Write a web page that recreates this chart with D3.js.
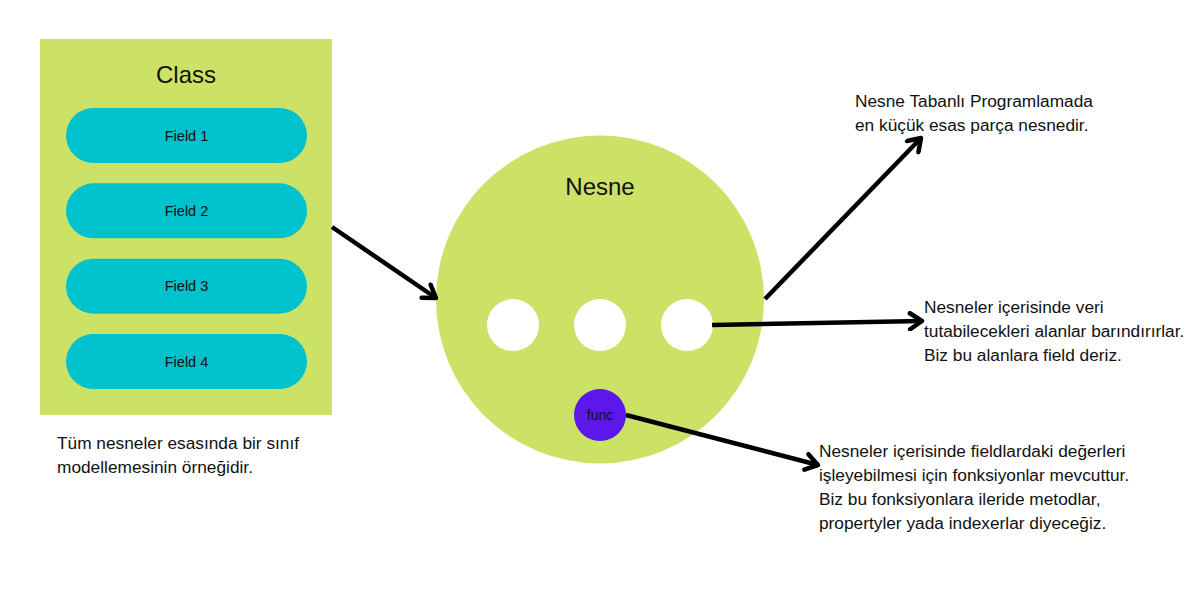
<!DOCTYPE html>
<html>
<head>
<meta charset="utf-8">
<script src="https://cdn.jsdelivr.net/npm/d3@7"></script>
<style>
  body { margin: 0; background: #fff; }
  text { font-family: "Liberation Sans", Arial, sans-serif; fill: #111; }
</style>
</head>
<body>
<div id="diagram"></div>
<script>
// labels
var classTitle = "Class";
var objectTitle = "Nesne";
var fieldLabels = ["Field 1", "Field 2", "Field 3", "Field 4"];
var slotCount = 3;
var funcLabel = "func";
var classNote = ["Tüm nesneler esasında bir sınıf", "modellemesinin örneğidir."];
var noteTop = ["Nesne Tabanlı Programlamada", "en küçük esas parça nesnedir."];
var noteField = ["Nesneler içerisinde veri", "tutabilecekleri alanlar barındırırlar.", "Biz bu alanlara field deriz."];
var noteFunc = ["Nesneler içerisinde fieldlardaki değerleri", "işleyebilmesi için fonksiyonlar mevcuttur.",
  "Biz bu fonksiyonlara ileride metodlar,", "propertyler yada indexerlar diyeceğiz."];

//colors
var green = "#cbe267";
var teal = "#00c2cc";
var purple = "#5c17eb";

var width = 1200, height = 600;

var svg = d3.select("#diagram").append("svg")
  .attr("width", width)
  .attr("height", height);

svg.append("defs").append("marker")
  .attr("id", "head")
  .attr("viewBox", "0 0 20 20")
  .attr("refX", 17).attr("refY", 10)
  .attr("markerWidth", 20).attr("markerHeight", 20)
  .attr("markerUnits", "userSpaceOnUse")
  .attr("orient", "auto")
  .append("path")
    .attr("d", "M5,2 L17,10 L5,18")
    .attr("fill", "none")
    .attr("stroke", "#000")
    .attr("stroke-width", 4.5)
    .attr("stroke-linecap", "round")
    .attr("stroke-linejoin", "round");

/*----------------------
CLASS BOX
----------------------*/
var box = { x: 40, y: 39, w: 292, h: 376 };
svg.append("rect")
  .attr("x", box.x).attr("y", box.y)
  .attr("width", box.w).attr("height", box.h)
  .attr("fill", green);

svg.append("text")
  .attr("x", box.x + box.w / 2).attr("y", 83)
  .attr("text-anchor", "middle")
  .style("font-size", "24px")
  .text(classTitle);

var fieldY = d3.scaleBand()
  .domain(fieldLabels)
  .range([108, 389])
  .paddingInner(0.27)
  .paddingOuter(0);

var pills = svg.selectAll(".field")
  .data(fieldLabels)
  .enter().append("g")
    .attr("class", "field");

pills.append("rect")
  .attr("x", 66).attr("width", 241)
  .attr("y", d => fieldY(d))
  .attr("height", fieldY.bandwidth())
  .attr("rx", fieldY.bandwidth() / 2)
  .attr("fill", teal);

pills.append("text")
  .attr("x", 66 + 241 / 2)
  .attr("y", d => fieldY(d) + fieldY.bandwidth() / 2)
  .attr("dy", "0.35em")
  .attr("text-anchor", "middle")
  .style("font-size", "14.5px")
  .text(d => d);

/*----------------------
OBJECT CIRCLE
----------------------*/
var obj = { cx: 600, cy: 299.5, r: 164 };
svg.append("circle")
  .attr("cx", obj.cx).attr("cy", obj.cy).attr("r", obj.r)
  .attr("fill", green);

svg.append("text")
  .attr("x", obj.cx).attr("y", 195)
  .attr("text-anchor", "middle")
  .style("font-size", "24px")
  .text(objectTitle);

var slotX = d3.scaleLinear().domain([0, slotCount - 1]).range([513, 687]);
var slotY = 325, slotR = 26;
svg.selectAll(".slot")
  .data(d3.range(slotCount))
  .enter().append("circle")
    .attr("class", "slot")
    .attr("cx", d => slotX(d))
    .attr("cy", slotY)
    .attr("r", slotR)
    .attr("fill", "#fff");

var func = { cx: 600, cy: 415, r: 26 };
svg.append("circle")
  .attr("cx", func.cx).attr("cy", func.cy).attr("r", func.r)
  .attr("fill", purple);
svg.append("text")
  .attr("x", func.cx).attr("y", func.cy)
  .attr("dy", "0.35em")
  .attr("text-anchor", "middle")
  .style("font-size", "14px")
  .text(funcLabel);

/*----------------------
ARROWS
----------------------*/
var arrows = [
  [[332, 227], [436, 298]],
  [[765, 299], [921, 138]],
  [[712, 325], [922, 321]],
  [[626, 415], [818, 465]]
];
svg.selectAll(".arrow")
  .data(arrows)
  .enter().append("line")
    .attr("class", "arrow")
    .attr("x1", d => d[0][0]).attr("y1", d => d[0][1])
    .attr("x2", d => d[1][0]).attr("y2", d => d[1][1])
    .attr("stroke", "#000")
    .attr("stroke-width", 4.5)
    .attr("marker-end", "url(#head)");

/*----------------------
NOTES
----------------------*/
function note(lines, x, y) {
  svg.append("text")
    .attr("x", x).attr("y", y)
    .style("font-size", "17.3px")
    .selectAll("tspan")
    .data(lines)
    .enter().append("tspan")
      .attr("x", x)
      .attr("dy", (d, i) => i === 0 ? 0 : 24)
      .text(d => d);
}
note(classNote, 57, 449);
note(noteTop, 855, 107);
note(noteField, 924, 313);
note(noteFunc, 819, 457);
</script>
</body>
</html>
